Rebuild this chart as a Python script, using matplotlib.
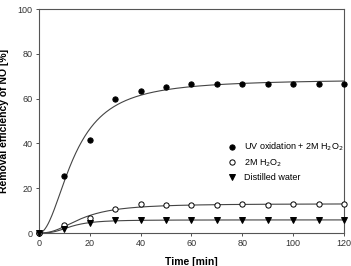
import numpy as np  # For numerical computations
import matplotlib

matplotlib.use("Agg")
import matplotlib.pyplot as plt  # For plotting

# Data
time_min = [0, 10, 20, 30, 40, 50, 60, 70, 80, 90, 100, 110, 120]
uv_h2o2 = [0, 25.5, 41.5, 59.8, 63.2, 65.0, 66.4, 66.5, 66.6, 66.6, 66.7, 66.7, 66.7]
h2o2_only = [0, 3.5, 6.8, 10.5, 12.8, 12.4, 12.4, 12.4, 12.8, 12.7, 12.8, 12.8, 12.8]
distilled = [0, 2.0, 4.5, 5.6, 5.8, 5.8, 5.8, 5.8, 5.8, 5.8, 5.8, 5.8, 5.8]

x_ticks = [0, 20, 40, 60, 80, 100, 120]
y_ticks = [0, 20, 40, 60, 80, 100]

plt.rcParams["font.family"] = ["Liberation Sans", "DejaVu Sans"]
AX_COLOR = "#555555"


def fit_hill(x, y):
    """Fit y = a*x^c/(b^c + x^c) by grid search over b, c (a solved linearly)."""
    x = np.asarray(x, float)
    y = np.asarray(y, float)
    best = None
    for b in np.linspace(3, 40, 150):
        for c in np.linspace(1.0, 4.0, 120):
            g = x**c / (b**c + x**c)
            a = np.dot(g, y) / np.dot(g, g)
            err = np.sum((a * g - y) ** 2)
            if best is None or err < best[0]:
                best = (err, a, b, c)
    return best[1:]


def curve(params, xs):
    a, b, c = params
    return a * xs**c / (b**c + xs**c)


fig = plt.figure(figsize=(3.51, 2.66), dpi=100)
ax = fig.add_axes([0.111, 0.124, 0.869, 0.842])

xs = np.linspace(0, 120, 400)
series = [
    (uv_h2o2, dict(marker="o", color="black", mfc="black"), "UV oxidation + 2M H$_2$O$_2$"),
    (h2o2_only, dict(marker="o", color="black", mfc="white"), "2M H$_2$O$_2$"),
    (distilled, dict(marker="v", color="black", mfc="black"), "Distilled water"),
]
for ys, style, label in series:
    params = fit_hill(time_min, ys)
    ax.plot(xs, curve(params, xs), color="#444444", lw=0.8, zorder=2)
    ax.plot(time_min, ys, ls="none", ms=3.8, mew=0.7, label=label, zorder=3, clip_on=False, **style)

ax.set_xlim(0, 120)
ax.set_ylim(0, 100)
ax.set_xticks(x_ticks)
ax.set_yticks(y_ticks)
ax.tick_params(labelsize=6.5, colors="#333333", length=2.5, width=0.6, pad=2)
for side in ax.spines.values():
    side.set_color(AX_COLOR)
    side.set_linewidth(0.8)

ax.set_xlabel("Time [min]", fontsize=7.5, fontweight="bold", labelpad=6)
ax.set_ylabel("Removal efficiency of NO [%]", fontsize=7.5, fontweight="bold", labelpad=6)

ax.legend(
    loc="center left",
    bbox_to_anchor=(0.59, 0.32),
    frameon=False,
    fontsize=6.5,
    handlelength=1.0,
    handletextpad=0.9,
    labelspacing=0.45,
)

fig.savefig("out.png", dpi=100)
plt.close(fig)
